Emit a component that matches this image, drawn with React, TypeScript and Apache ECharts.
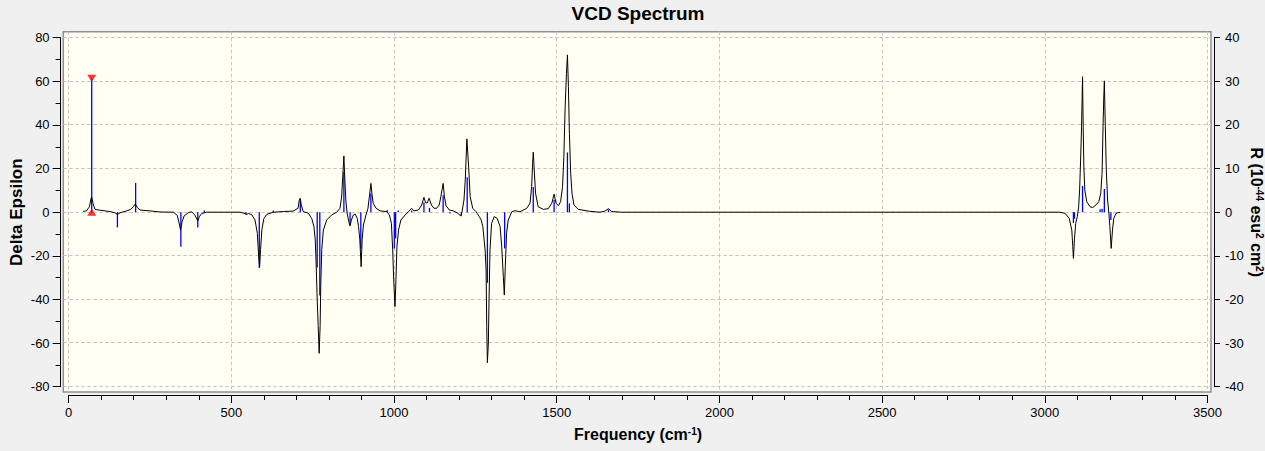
import { useEffect, useRef } from 'react';
import * as echarts from 'echarts';

// Broadened VCD curve (Delta Epsilon, left axis)
const curveFreq = [
  45, 55, 64, 69, 71, 75, 81, 97, 127, 143, 150, 158, 178, 191, 199, 205, 211, 219, 250, 281,
  322, 334, 339, 344, 349, 355, 368, 378, 388, 397, 402, 409, 424, 527, 539, 547, 553, 563, 573, 580,
  584, 587, 590, 594, 600, 609, 629, 660, 690, 705, 709, 712, 715, 721, 737, 747, 754, 758, 761, 764,
  767, 770, 773, 775, 778, 783, 793, 808, 824, 834, 839, 842, 846, 849, 852, 856, 861, 865, 869, 875,
  881, 887, 891, 895, 899, 902, 906, 914, 920, 925, 929, 932, 936, 945, 957, 977, 986, 992, 996, 999,
  1003, 1006, 1009, 1014, 1021, 1034, 1044, 1054, 1061, 1075, 1085, 1092, 1097, 1102, 1108, 1115, 1123, 1131, 1139, 1144,
  1151, 1155, 1160, 1170, 1182, 1196, 1205, 1209, 1215, 1219, 1224, 1230, 1234, 1242, 1252, 1262, 1268, 1273, 1280, 1283,
  1285, 1287, 1290, 1292, 1295, 1300, 1308, 1317, 1326, 1331, 1336, 1339, 1342, 1346, 1351, 1362, 1372, 1387, 1408, 1418,
  1423, 1426, 1428, 1431, 1435, 1443, 1459, 1474, 1485, 1492, 1498, 1505, 1512, 1518, 1522, 1526, 1530, 1533, 1536, 1539,
  1543, 1547, 1553, 1566, 1602, 1633, 1648, 1659, 1669, 1700, 3046, 3062, 3075, 3083, 3086, 3088, 3091, 3095, 3100, 3104,
  3107, 3110, 3113, 3116, 3118, 3120, 3123, 3129, 3139, 3147, 3157, 3166, 3172, 3176, 3179, 3181, 3183, 3186, 3189, 3193,
  3197, 3200, 3204, 3208, 3212, 3219, 3231,
];
const curveDelta = [
  0.4, 0.6, 2.5, 6.4, 6.8, 4, 1.3, 0.9, 0.3, -0.3, -1, -0.3, 0.6, 1.3, 2.5, 3.8, 2.2, 1.0, 0.6, 0.1,
  0, -1.5, -4.5, -8.2, -4.3, -1.7, -0.2, 0.2, -1.3, -4, -2, -0.6, 0, 0, -0.5, -1, -0.6, -1.2, -3.6, -9.7,
  -20, -25, -17, -8, -3, -1, 0, 0.3, 0.5, 1.8, 5.6, 6.4, 3.3, 0.3, -0.5, -2.8, -6.6, -12.7, -25, -40,
  -52, -64.7, -52, -33, -17, -8.2, -3.6, -1.3, 0, 1.8, 7, 14.8, 25.8, 14.8, 5.6, -0.5, -4.3, -6.3, -3.6, -1.3,
  -0.9, -2.8, -6.6, -12.7, -25, -12.7, -5.9, -1.3, 1.8, 7.9, 13.2, 8.7, 4.1, 1.8, 0.6, 0.3, -1.3, -5.1, -17.3, -31,
  -43.3, -31, -15.8, -8.2, -3.6, -1.3, 0.2, 1.8, 0.6, 1, 3.3, 6.8, 4.4, 4.2, 6.4, 3.3, 1.8, 1.8, 3.3, 7.1,
  13.2, 7.1, 3, 1, 0.6, -0.4, -1.8, 0.2, 5.6, 14.8, 33.6, 19.3, 7.1, 1.8, 0.2, -2, -3.6, -6.6, -17.3, -26.5,
  -52.5, -69, -60, -40.3, -17.3, -5.1, -2, -2.8, -6.6, -15.8, -29.6, -38, -25, -9.7, -3.6, 0.2, 0.7, 0.2, 1.8, 4.1,
  11.7, 22.4, 27.5, 19.3, 8.7, 2.5, 1.3, 1.6, 4.1, 8.3, 4.1, 3, 4.8, 11.7, 25.5, 48.4, 63.7, 72.1, 57.6, 36.2,
  17.8, 8.7, 3.3, 1.3, 0.4, 0, 0.5, 1.6, 0.3, 0, 0, -0.5, -2.8, -8.2, -15.8, -21.2, -12.7, -5.1, -2, 2.5,
  10.2, 23.9, 39.2, 62.1, 39.2, 20.9, 10.2, 4.8, 2.5, 2.1, 3.3, 4.8, 8.7, 17.8, 39.2, 51.4, 60.2, 39.2, 19.3, 5.6,
  -0.5, -6.6, -16.6, -8.2, -2.8, -0.5, 0,
];

// Rotational strengths (R, right axis), drawn as sticks
const stickFreq = [
  71, 150, 206, 345, 397, 417, 545, 586, 629, 712, 764, 772, 846, 865, 898, 929, 979, 1001, 1005, 1013,
  1054, 1092, 1109, 1151, 1172, 1207, 1225, 1287, 1340, 1428, 1492, 1533, 1539, 1659, 3088, 3091, 3116, 3170,
  3176, 3183, 3203,
];
const stickR = [
  30.7, -3.5, 6.7, -7.9, -3.5, 0.4, -0.6, -12.8, 0.4, 2.6, -12.7, -19.1, 9.3, -2.9, -8.3, 4.3, 0.5, -8.3, -6, 0.4,
  0.4, 2.2, 1.0, 3.9, -0.3, -0.8, 8.0, -16.2, -8.3, 5.8, 2.8, 13.7, 2.0, 0.6, -2.5, -1.5, 6.0, 0.7,
  0.8, 5.3, -1.8,
];

// selected transition (red markers)
const selectedFreq = 71;
const selectedR = 30.7;

const FONT = '"Liberation Sans", Arial, sans-serif';

export default function App() {
  const chartRef = useRef<HTMLDivElement>(null);

  useEffect(() => {
    if (!chartRef.current) return;
    const chart = echarts.init(chartRef.current, null, { renderer: 'svg' });

    const curveData = curveFreq.map((f, i) => [f, curveDelta[i]]);
    const stickData = stickFreq.map((f, i) => [f, stickR[i]]);

    const dashed = { color: '#c4c4c4', width: 1, type: [3.5, 2.5] as number[] };
    const labelStyle = {
      color: '#000',
      fontSize: 13,
      fontFamily: FONT,
      formatter: (v: number) => String(v),
    };
    const nameStyle = { color: '#000', fontSize: 16, fontWeight: 'bold' as const, fontFamily: FONT };

    const option: any = {
      animation: false,
      backgroundColor: '#f0f0f0',
      graphic: [
        {
          type: 'text',
          x: 638,
          y: 13,
          style: {
            text: 'VCD Spectrum',
            fontSize: 19,
            fontWeight: 'bold',
            fontFamily: FONT,
            fill: '#000',
            align: 'center',
            verticalAlign: 'middle',
          },
        },
      ],
      grid: [
        {
          // plot frame
          left: 63.3,
          right: 54,
          top: 31.7,
          bottom: 59,
          show: true,
          backgroundColor: '#fffff4',
          borderColor: '#8f8f8f',
          borderWidth: 1.5,
          outerBoundsMode: 'none',
          containLabel: false,
        },
        {
          // data area (tick range)
          left: 68.6,
          right: 57.5,
          top: 37.7,
          bottom: 64.3,
          show: false,
          outerBoundsMode: 'none',
          containLabel: false,
        },
      ],
      xAxis: [
        {
          gridIndex: 0,
          type: 'value',
          min: -16.3,
          max: 3510.8,
          minInterval: 500,
          maxInterval: 500,
          splitNumber: 7,
          axisLine: { show: false },
          axisTick: { show: false },
          axisLabel: { show: false },
          splitLine: { show: true, lineStyle: dashed, showMinLine: false, showMaxLine: false },
        },
        {
          gridIndex: 1,
          type: 'value',
          min: 0,
          max: 3500,
          interval: 500,
          position: 'bottom',
          offset: 8.3,
          axisLine: { show: true, onZero: false, lineStyle: { color: '#000', width: 1 } },
          axisTick: { show: true, length: 8, lineStyle: { color: '#000' } },
          minorTick: { show: true, splitNumber: 5, length: 5, lineStyle: { color: '#000' } },
          axisLabel: { ...labelStyle, margin: 11 },
          splitLine: { show: false },
          name: '{b|Frequency (cm}{sup|-1}{b|)}',
          nameLocation: 'middle',
          nameGap: 31,
          nameMoveOverlap: false,
          nameTextStyle: {
            ...nameStyle,
            rich: {
              b: { ...nameStyle },
              sup: { ...nameStyle, fontSize: 10, verticalAlign: 'top', lineHeight: 10 },
            },
          },
        },
      ],
      yAxis: [
        {
          gridIndex: 0,
          type: 'value',
          min: -82.6,
          max: 82.6,
          minInterval: 20,
          maxInterval: 20,
          splitNumber: 8,
          axisLine: { show: false },
          axisTick: { show: false },
          axisLabel: { show: false },
          splitLine: { show: true, lineStyle: dashed, showMinLine: false, showMaxLine: false },
        },
        {
          gridIndex: 1,
          type: 'value',
          min: -80,
          max: 80,
          interval: 20,
          position: 'left',
          offset: 8,
          axisLine: { show: true, onZero: false, lineStyle: { color: '#000', width: 1 } },
          axisTick: { show: true, length: 8, lineStyle: { color: '#000' } },
          minorTick: { show: true, splitNumber: 2, length: 5, lineStyle: { color: '#000' } },
          axisLabel: { ...labelStyle, margin: 11 },
          splitLine: { show: false },
          name: 'Delta Epsilon',
          nameLocation: 'middle',
          nameRotate: 90,
          nameGap: 36,
          nameMoveOverlap: false,
          nameTextStyle: { ...nameStyle, fontSize: 17 },
        },
        {
          gridIndex: 1,
          type: 'value',
          min: -40,
          max: 40,
          interval: 10,
          position: 'right',
          offset: 6.5,
          axisLine: { show: true, onZero: false, lineStyle: { color: '#000', width: 1 } },
          axisTick: { show: true, length: 6, lineStyle: { color: '#000' } },
          axisLabel: { ...labelStyle, margin: 11 },
          splitLine: { show: false },
          name: 'R (10{sup|-44} esu{sup|2} cm{sup|2})',
          nameLocation: 'middle',
          nameRotate: -90,
          nameGap: 34,
          nameMoveOverlap: false,
          nameTextStyle: {
            ...nameStyle,
            rich: {
              sup: { ...nameStyle, fontSize: 10, verticalAlign: 'top', lineHeight: 10 },
            },
          },
        },
      ],
      series: [
        {
          name: 'R',
          type: 'custom',
          xAxisIndex: 1,
          yAxisIndex: 2,
          data: stickData,
          z: 2,
          renderItem: (params: any, api: any) => {
            const x = api.value(0);
            const r = api.value(1);
            const p0 = api.coord([x, 0]);
            const p1 = api.coord([x, r]);
            return {
              type: 'line',
              shape: { x1: p0[0], y1: p0[1], x2: p1[0], y2: p1[1] },
              style: { stroke: '#0000ff', lineWidth: 1.3 },
            };
          },
        },
        {
          name: 'Delta Epsilon',
          type: 'line',
          xAxisIndex: 1,
          yAxisIndex: 1,
          data: curveData,
          showSymbol: false,
          symbol: 'none',
          z: 3,
          lineStyle: { color: '#000', width: 1 },
        },
        {
          name: 'selected top',
          type: 'scatter',
          xAxisIndex: 1,
          yAxisIndex: 2,
          data: [[selectedFreq, selectedR]],
          symbol: 'triangle',
          symbolRotate: 180,
          symbolSize: [9, 7],
          z: 4,
          itemStyle: { color: '#ff0000' },
        },
        {
          name: 'selected base',
          type: 'scatter',
          xAxisIndex: 1,
          yAxisIndex: 2,
          data: [[selectedFreq, 0]],
          symbol: 'triangle',
          symbolSize: [9, 7],
          z: 4,
          itemStyle: { color: '#ff0000' },
        },
      ],
    };

    chart.setOption(option);

    return () => {
      chart.dispose();
    };
  }, []);

  return (
    <div
      ref={chartRef}
      style={{ position: 'fixed', left: 0, top: 0, width: '1265px', height: '451px' }}
    />
  );
}
